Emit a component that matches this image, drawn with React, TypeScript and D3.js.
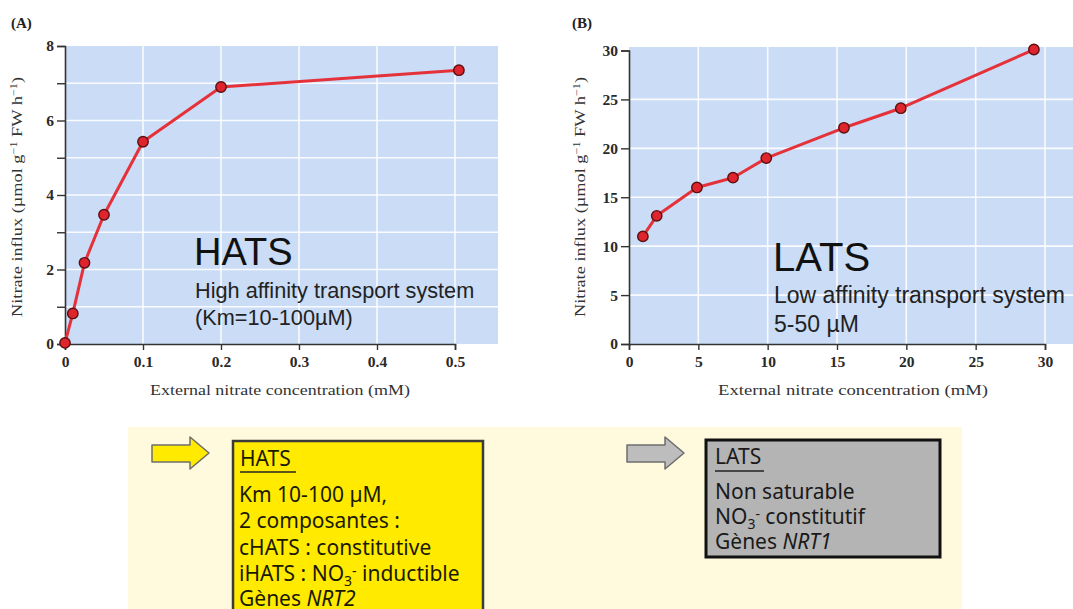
import React, { useRef, useEffect } from 'react';
import * as d3 from 'd3';

// (A) HATS
const hatsConc = [0, 0.01, 0.025, 0.05, 0.1, 0.2, 0.505];
const hatsInflux = [0.03, 0.82, 2.18, 3.47, 5.43, 6.9, 7.35];
const hatsXTicks = [0, 0.1, 0.2, 0.3, 0.4, 0.5];
const hatsYTicks = [0, 1, 2, 3, 4, 5, 6, 7, 8];
const hatsYLabels = [0, 2, 4, 6, 8];

// (B) LATS
const latsConc = [1, 2, 4.9, 7.5, 9.9, 15.5, 19.6, 29.2];
const latsInflux = [11, 13.1, 16, 17, 19, 22.1, 24.1, 30.1];
const latsXTicks = [0, 5, 10, 15, 20, 25, 30];
const latsYTicks = [0, 5, 10, 15, 20, 25, 30];

const hatsLines = ['Km 10-100 µM,', '2 composantes :', 'cHATS : constitutive'];
const latsLines = ['Non saturable'];

const W = 1073;
const H = 609;
const SERIF = '"Liberation Serif", "Times New Roman", serif';
const SANS = '"Liberation Sans", Arial, sans-serif';
const BOX_FONT = '"Noto Sans", "Open Sans", sans-serif';

const PLOT_BG = '#cadcf6';
const LINE_RED = '#e5323a';

type Scale = d3.ScaleLinear<number, number>;

const Axis = ({ axis, transform, showLabel }: { axis: d3.Axis<number>; transform: string; showLabel?: (v: number) => boolean }) => {
  const ref = useRef<SVGGElement>(null);
  useEffect(() => {
    const g = d3.select(ref.current as SVGGElement);
    g.call(axis as any);
    g.select('.domain').attr('stroke', '#333').attr('stroke-width', 1.6);
    g.selectAll('.tick line').attr('stroke', '#333').attr('stroke-width', 1.4);
    g.selectAll('.tick text')
      .attr('font-family', SERIF)
      .attr('font-size', 15.5)
      .attr('font-weight', 'bold')
      .attr('fill', '#2a2a2a')
      .text((d: any) => (showLabel && !showLabel(d) ? '' : String(d)));
  }, [axis]);
  return <g ref={ref} transform={transform} fill="none" />;
};

const YTitle = ({ x, y }: { x: number; y: number }) => (
  <text
    transform={`translate(${x},${y}) rotate(-90)`}
    textAnchor="middle"
    fontFamily={SERIF}
    fontSize={15}
    fill="#333"
    textLength={240}
    lengthAdjust="spacingAndGlyphs"
  >
    Nitrate influx (µmol g
    <tspan dy={-5} fontSize={10}>−1</tspan>
    <tspan dy={5}> FW h</tspan>
    <tspan dy={-5} fontSize={10}>−1</tspan>
    <tspan dy={5}>)</tspan>
  </text>
);

const Panel = ({
  x, y, xs, ys, xTicks, yTicks, gridX, gridY, plot, label, labelX, titleX, titleW, showY,
}: {
  x: Scale; y: Scale; xs: number[]; ys: number[]; xTicks: number[]; yTicks: number[];
  gridX: number[]; gridY: number[]; plot: { x0: number; x1: number; y0: number; y1: number };
  label: string; labelX: number; titleX: number; titleW: number; showY?: (v: number) => boolean;
}) => {
  const pts = xs.map((c, i) => [x(c), y(ys[i])] as [number, number]);
  const line = d3.line()(pts) || '';
  const xAxis = d3.axisBottom<number>(x).tickValues(xTicks).tickSize(6).tickPadding(6).tickFormat(d => String(d));
  const yAxis = d3.axisLeft<number>(y).tickValues(yTicks).tickSize(8).tickPadding(3).tickFormat(d => String(d));
  return (
    <g>
      <text x={labelX} y={28} fontFamily={SERIF} fontSize={15} fontWeight="bold" fill="#222">{label}</text>
      <rect x={plot.x0} y={plot.y0} width={plot.x1 - plot.x0} height={plot.y1 - plot.y0} fill={PLOT_BG} />
      {gridY.map(v => (
        <line key={'gy' + v} x1={plot.x0} x2={plot.x1} y1={y(v)} y2={y(v)} stroke="#fff" strokeWidth={1.6} opacity={0.9} />
      ))}
      {gridX.map(v => (
        <line key={'gx' + v} x1={x(v)} x2={x(v)} y1={plot.y0} y2={plot.y1} stroke="#fff" strokeWidth={1.6} opacity={0.9} />
      ))}
      <Axis axis={xAxis} transform={`translate(0,${plot.y1})`} />
      <Axis axis={yAxis} transform={`translate(${plot.x0},0)`} showLabel={showY} />
      <path d={line} fill="none" stroke={LINE_RED} strokeWidth={3} strokeLinejoin="round" />
      {pts.map((p, i) => (
        <circle key={i} cx={p[0]} cy={p[1]} r={5.2} fill="#e0242d" stroke="#5a1010" strokeWidth={1.4} />
      ))}
      <text
        x={titleX} y={395} textAnchor="middle" fontFamily={SERIF} fontSize={15} fill="#333"
        textLength={titleW} lengthAdjust="spacingAndGlyphs"
      >
        External nitrate concentration (mM)
      </text>
    </g>
  );
};

const Arrow = ({ x, y, fill }: { x: number; y: number; fill: string }) => {
  const d = `M${x},${y + 8} H${x + 38} V${y} L${x + 57},${y + 16} L${x + 38},${y + 32} V${y + 25} H${x} Z`;
  return <path d={d} fill={fill} stroke="#6d6d6d" strokeWidth={1.5} strokeLinejoin="round" />;
};

const Sub3 = () => (
  <>
    <tspan dy={5} fontSize={14}>3</tspan>
    <tspan dy={-10} fontSize={14}>-</tspan>
  </>
);

const App = () => {
  const xA = d3.scaleLinear().domain([0, 0.5]).range([65, 455]);
  const yA = d3.scaleLinear().domain([0, 8]).range([344, 46]);
  const xB = d3.scaleLinear().domain([0, 30]).range([629, 1045]);
  const yB = d3.scaleLinear().domain([0, 30]).range([344, 50.5]);

  return (
    <div style={{ position: 'absolute', left: 0, top: 0 }}>
      <svg width={W} height={H} style={{ display: 'block', background: '#fff' }}>
        <Panel
          x={xA} y={yA} xs={hatsConc} ys={hatsInflux}
          xTicks={hatsXTicks} yTicks={hatsYTicks}
          gridX={hatsXTicks.slice(1)} gridY={hatsYTicks.slice(1, -1)}
          plot={{ x0: 65, x1: 498, y0: 46, y1: 344 }}
          label="(A)" labelX={11} titleX={280} titleW={260}
          showY={v => hatsYLabels.includes(v)}
        />
        <YTitle x={22} y={197} />
        <text x={194} y={265} fontFamily={SANS} fontSize={38} fill="#111">HATS</text>
        <text x={195} y={298} fontFamily={SANS} fontSize={21.7} fill="#222">High affinity transport system</text>
        <text x={195} y={325} fontFamily={SANS} fontSize={21.7} fill="#222">(Km=10-100µM)</text>

        <Panel
          x={xB} y={yB} xs={latsConc} ys={latsInflux}
          xTicks={latsXTicks} yTicks={latsYTicks}
          gridX={latsXTicks.slice(1)} gridY={latsYTicks.slice(1, -1)}
          plot={{ x0: 629, x1: 1080, y0: 47, y1: 344 }}
          label="(B)" labelX={572} titleX={853} titleW={270}
        />
        <YTitle x={585} y={197} />
        <text x={773} y={271} fontFamily={SANS} fontSize={40} fill="#111">LATS</text>
        <text x={774} y={303} fontFamily={SANS} fontSize={23} fill="#222">Low affinity transport system</text>
        <text x={774} y={332} fontFamily={SANS} fontSize={23} fill="#222">5-50 µM</text>

        {/* summary panel */}
        <rect x={128} y={427} width={834} height={182} fill="#fffadd" />
        <Arrow x={152} y={437} fill="#ffea00" />
        <Arrow x={627} y={437} fill="#bdbdbd" />

        <rect x={233} y={441} width={250} height={190} fill="#ffea00" stroke="#3a3a3a" strokeWidth={2.5} />
        <g fontFamily={BOX_FONT} fontSize={21} fill="#1a1a00">
          <text x={240} y={466}>HATS</text>
          <line x1={240} x2={296} y1={472} y2={472} stroke="#222" strokeWidth={1.5} />
          {hatsLines.map((t, i) => (
            <text key={t} x={239} y={502 + i * 26.3}>{t}</text>
          ))}
          <text x={239} y={581}>
            iHATS : NO<Sub3 /><tspan dy={5}> inductible</tspan>
          </text>
          <text x={239} y={606}>Gènes <tspan fontStyle="italic">NRT2</tspan></text>
        </g>

        <rect x={706} y={440} width={234} height={117} fill="#b4b4b4" stroke="#111" strokeWidth={3} />
        <g fontFamily={BOX_FONT} fontSize={21} fill="#1a1a1a">
          <text x={715} y={464}>LATS</text>
          <line x1={715} x2={764} y1={471} y2={471} stroke="#222" strokeWidth={1.5} />
          {latsLines.map((t, i) => (
            <text key={t} x={715} y={499 + i * 25}>{t}</text>
          ))}
          <text x={715} y={524}>
            NO<Sub3 /><tspan dy={5}> constitutif</tspan>
          </text>
          <text x={715} y={549}>Gènes <tspan fontStyle="italic">NRT1</tspan></text>
        </g>
      </svg>
    </div>
  );
};

export default App;
